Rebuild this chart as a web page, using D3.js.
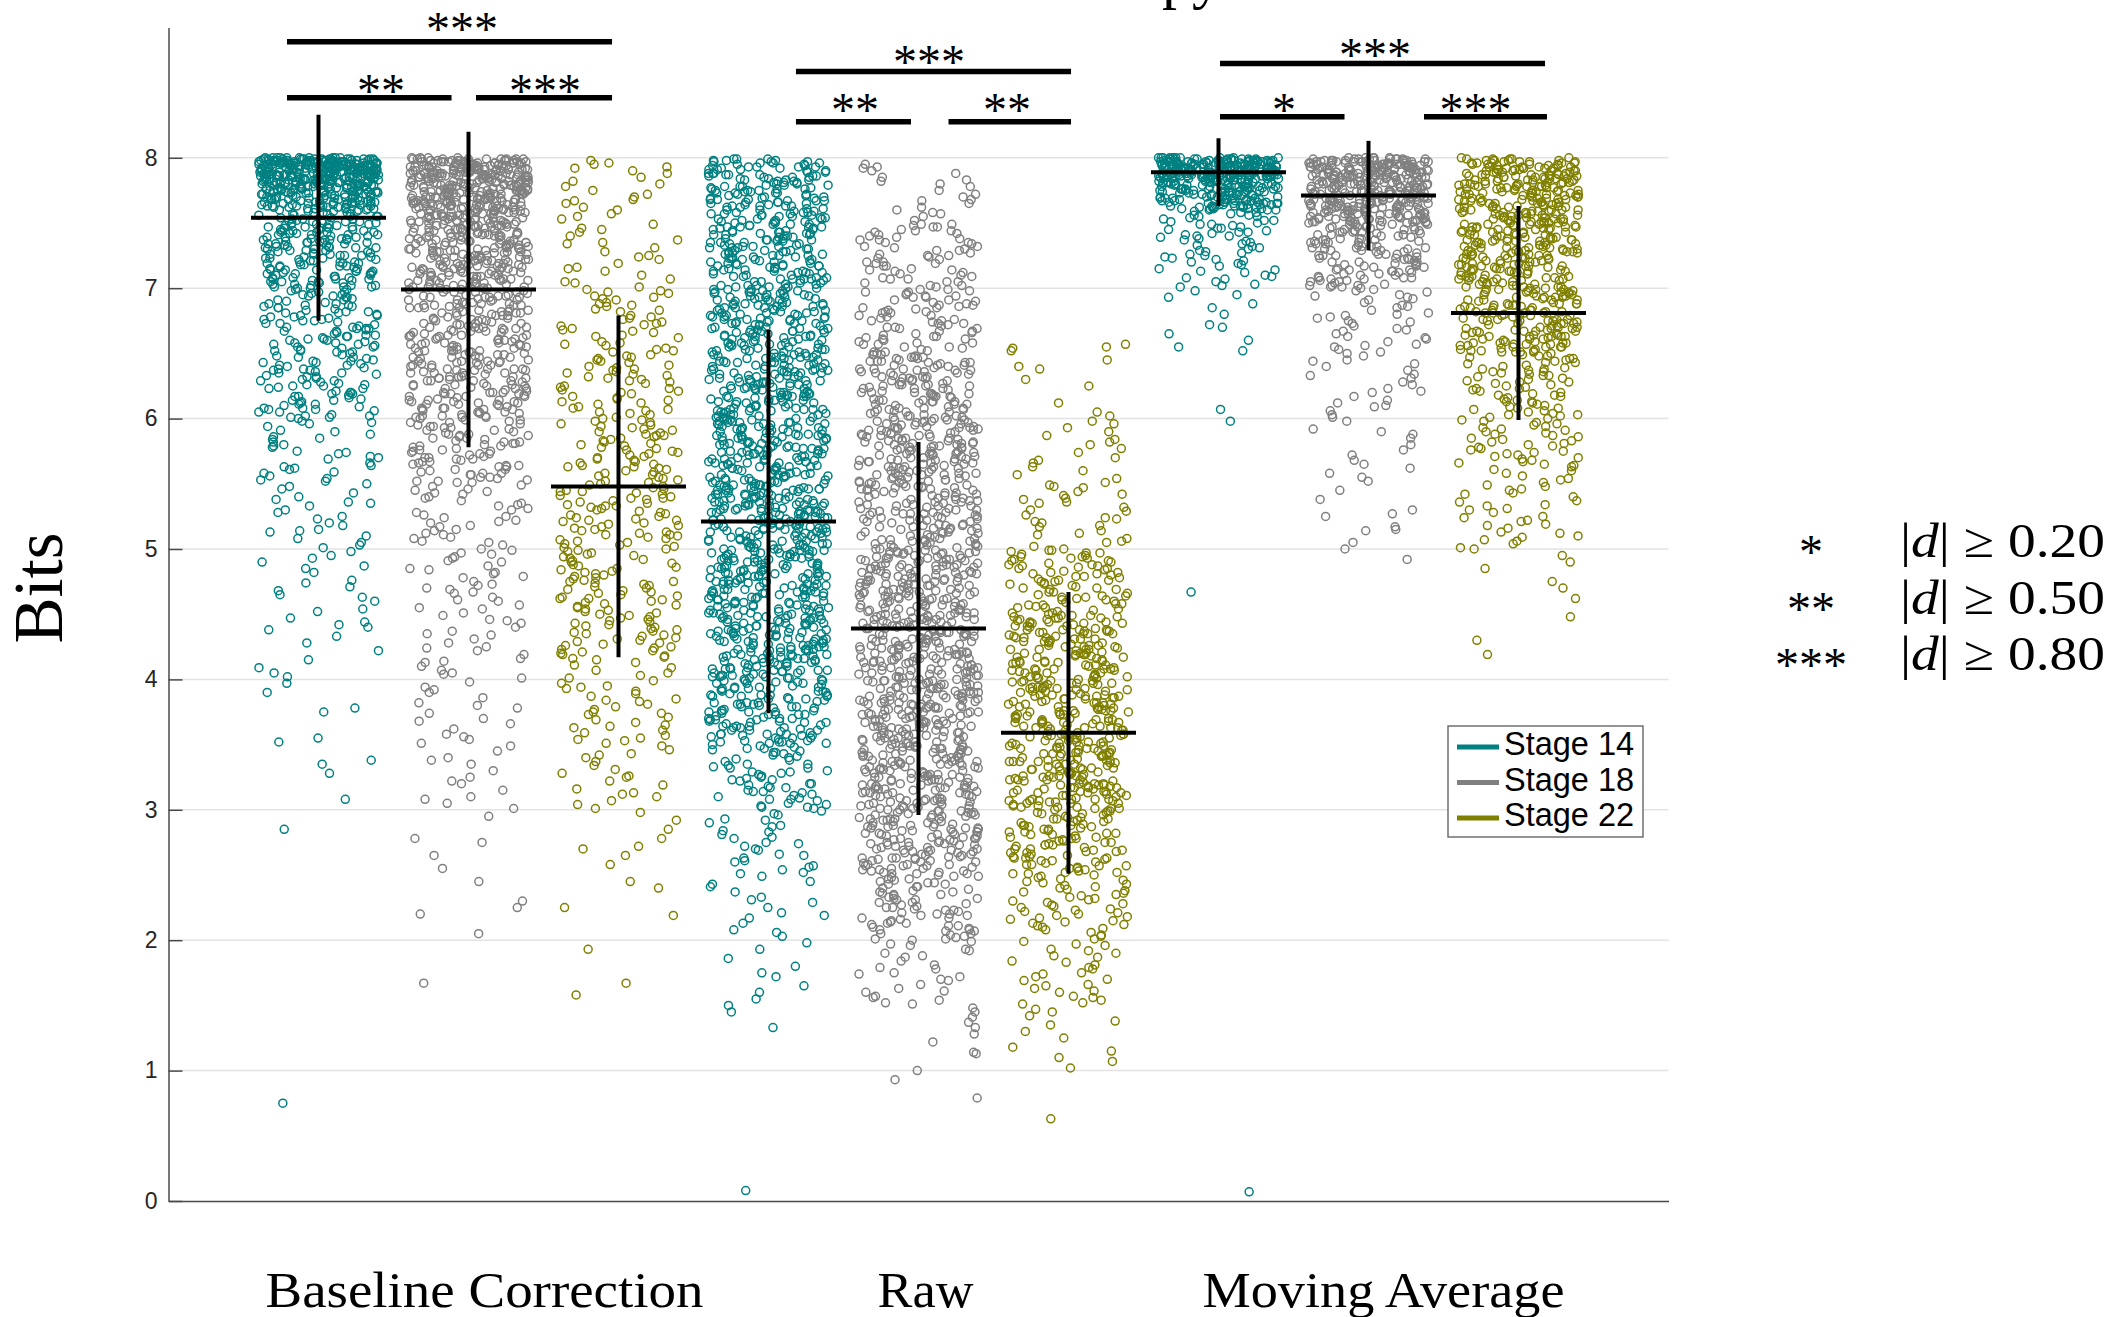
<!DOCTYPE html>
<html><head><meta charset="utf-8">
<script src="https://cdn.jsdelivr.net/npm/d3@7"></script>
<style>html,body{margin:0;padding:0;background:#fff;overflow:hidden}</style>
</head><body>
<svg id="chart" width="2113" height="1317"></svg>
<script>
// ---------------- DATA ----------------
const categories = ["Baseline Correction", "Raw", "Moving Average"];
const stages = ["Stage 14", "Stage 18", "Stage 22"];
const yTicks = [0, 1, 2, 3, 4, 5, 6, 7, 8];

const meanBaseline = [7.54, 6.99, 5.48];
const sdBaseline = [0.79, 1.21, 1.31];
const meanRaw = [5.21, 4.39, 3.59];
const sdRaw = [1.47, 1.43, 1.08];
const meanMoving = [7.89, 7.71, 6.81];
const sdMoving = [0.26, 0.42, 0.82];

const effectStars = ["*", "**", "***"];
const effectThresholds = ["0.20", "0.50", "0.80"];
const bracketLabels = ["***", "**", "***", "***", "**", "**", "***", "*", "***"];

// Baseline Correction, Stage 14
const bc14 = [8.00,7.99,7.98,7.97,7.96,7.95,7.94,7.93,7.92,7.91,7.90,7.99,7.97,7.95,7.93,7.91,8.00,7.98,7.96,7.94,
7.92,7.90,7.99,7.97,7.95,7.93,7.91,8.00,7.98,7.96,7.94,7.92,7.99,7.97,7.95,7.93,7.91,7.98,7.96,7.94,
7.92,7.90,8.00,7.99,7.97,7.95,7.93,7.91,7.98,7.96,7.94,7.92,7.99,7.97,7.95,7.93,7.91,8.00,7.98,7.96,
7.94,7.92,7.90,7.99,7.97,7.95,7.93,7.91,7.98,7.96,7.94,7.92,7.99,7.97,7.95,7.93,8.00,7.98,7.96,7.94,
7.92,7.90,7.99,7.97,7.95,7.93,7.91,7.98,7.96,7.94,
7.89,7.87,7.85,7.83,7.81,7.79,7.77,7.75,7.88,7.86,7.84,7.82,7.80,7.78,7.76,7.89,7.87,7.85,7.83,7.81,
7.79,7.77,7.75,7.88,7.86,7.84,7.82,7.80,7.78,7.76,7.89,7.86,7.83,7.80,7.77,7.88,7.85,7.82,7.79,7.76,
7.87,7.84,7.81,7.78,7.75,7.89,7.86,7.83,7.80,7.77,7.88,7.85,7.82,7.79,7.76,7.87,7.84,7.81,7.78,7.75,
7.89,7.86,7.83,7.80,7.77,7.88,7.85,7.82,7.79,7.76,7.87,7.84,7.81,7.78,7.75,
7.74,7.72,7.70,7.68,7.66,7.64,7.62,7.60,7.73,7.71,7.69,7.67,7.65,7.63,7.61,7.74,7.71,7.68,7.65,7.62,
7.73,7.70,7.67,7.64,7.61,7.72,7.69,7.66,7.63,7.60,7.74,7.70,7.66,7.62,7.73,7.69,7.65,7.61,7.72,7.68,
7.64,7.60,7.71,7.67,7.63,7.74,7.70,7.66,7.62,7.73,7.69,7.65,7.61,7.72,7.68,
7.59,7.57,7.55,7.53,7.51,7.49,7.47,7.45,7.43,7.41,7.39,7.37,7.35,7.33,7.31,7.58,7.55,7.52,7.49,7.46,
7.43,7.40,7.37,7.34,7.31,7.57,7.54,7.51,7.48,7.45,7.42,7.39,7.36,7.33,7.30,7.59,7.56,7.53,7.50,7.47,
7.44,7.41,7.38,7.35,7.32,7.58,7.54,7.50,7.46,7.42,7.38,7.34,7.30,7.57,7.53,7.49,7.45,7.41,7.37,7.33,
7.59,7.55,7.51,7.47,7.43,7.39,7.35,7.31,7.56,7.52,7.48,7.44,7.40,7.36,7.32,7.58,7.50,7.42,7.34,7.46,
7.29,7.27,7.25,7.23,7.21,7.19,7.17,7.15,7.13,7.11,7.09,7.07,7.05,7.03,7.01,7.28,7.24,7.20,7.16,7.12,
7.08,7.04,7.00,7.26,7.22,7.18,7.14,7.10,7.06,7.02,7.29,7.25,7.21,7.17,7.13,7.09,7.05,7.01,7.27,7.23,
7.19,7.15,7.11,7.07,7.03,7.28,7.22,7.16,7.10,7.04,7.26,7.20,7.14,7.08,7.02,7.24,7.18,7.12,7.06,7.00,
6.98,6.95,6.92,6.89,6.86,6.83,6.80,6.77,6.74,6.71,6.68,6.65,6.62,6.59,6.56,6.53,6.50,6.97,6.93,6.88,
6.84,6.79,6.75,6.70,6.66,6.61,6.57,6.52,6.99,6.94,6.90,6.85,6.81,6.76,6.72,6.67,6.63,6.58,6.54,6.96,
6.91,6.87,6.82,6.78,6.73,6.69,6.64,6.60,6.55,6.51,6.95,6.86,6.78,6.69,6.60,
6.48,6.45,6.42,6.39,6.36,6.33,6.30,6.27,6.24,6.21,6.18,6.15,6.12,6.09,6.06,6.03,6.00,6.47,6.43,6.38,
6.34,6.29,6.25,6.20,6.16,6.11,6.07,6.02,6.46,6.41,6.37,6.32,6.28,6.23,6.19,6.14,6.10,6.05,6.01,6.44,
6.35,6.26,6.17,6.08,6.40,
5.98,5.94,5.90,5.86,5.82,5.78,5.74,5.70,5.66,5.62,5.58,5.54,5.50,5.96,5.91,5.85,5.80,5.75,5.69,5.64,
5.59,5.53,5.97,5.88,5.79,5.71,5.63,5.56,5.84,5.73,5.61,5.52,
5.48,5.43,5.38,5.33,5.28,5.23,5.18,5.13,5.08,5.03,5.46,5.40,5.35,5.30,5.25,5.20,5.15,5.10,5.05,5.01,5.36,5.14,
4.98,4.93,4.87,4.82,4.76,4.71,4.65,4.60,4.54,4.95,4.85,4.74,4.63,4.52,4.90,4.68,
4.47,4.42,4.38,4.40,4.28,4.22,4.15,4.09,4.05,4.44,4.33,4.02,
3.97,3.90,3.78,3.75,3.55,3.52,3.38,3.35,3.28,3.08,2.85,0.75,
8.00,7.98,7.96,7.94,7.92,7.90,7.88,7.86,7.84,7.82,7.80,7.78,7.76,7.74,7.72,7.70,7.68,7.66,7.64,7.62,
7.99,7.97,7.95,7.93,7.91,7.89,7.87,7.85,7.83,7.81,7.79,7.77,7.75,7.73,7.71,7.69,7.67,7.65,7.63,7.61,
8.00,7.99,7.98,7.97,7.96,7.95,7.94,7.93,7.92,7.91,7.90,7.89,7.88,7.87,7.86,7.85,7.84,7.83,7.82,7.81,
7.99,7.97,7.95,7.93,7.91,7.89,7.87,7.85,7.83,7.98,7.96,7.94,7.92,7.90,7.88,7.86,7.80,7.78,7.76,7.74,
8.00,7.98,7.96,7.94,7.92,7.90,7.88,7.86,7.84,7.82,7.80,7.78,7.76,7.74,7.72,7.70,7.68,7.66,7.64,7.62,
7.99,7.97,7.95,7.93,7.91,7.89,7.87,7.85,7.83,7.81,7.79,7.77,7.75,7.73,7.71,7.69,7.67,7.65,7.63,7.61,
8.00,7.99,7.98,7.97,7.96,7.95,7.94,7.93,7.92,7.91,7.90,7.89,7.88,7.87,7.86,7.85,7.84,7.83,7.82,7.81,
7.99,7.97,7.95,7.93,7.91,7.89,7.87,7.85,7.83,7.98,7.96,7.94,7.92,7.90,7.88,7.86,7.80,7.78,7.76,7.74,
7.44,7.38,7.32,7.26,7.20,7.14,7.08,7.02,7.47,7.41,7.35,7.29,7.23,7.17,7.11,7.05,7.49,7.43,7.37,7.31,7.25,7.19,7.13,7.07,7.01,
6.94,6.88,6.82,6.76,6.70,6.64,6.58,6.52,6.97,6.91,6.85,6.79,6.73,6.67,6.61,6.55,6.99,6.93,6.87,6.81,6.75,6.69,6.63,6.57,6.51,
6.44,6.38,6.32,6.26,6.20,6.14,6.08,6.02,6.47,6.41,6.35,6.29,6.23,6.17,6.11,6.05,6.49,6.43,6.37,6.31,6.25,6.19,6.13,6.07,6.01];

// Baseline Correction, Stage 18
const bc18 = [8.00,7.99,7.98,7.97,7.96,7.95,7.94,7.93,7.92,7.91,7.90,7.89,7.88,7.87,7.86,7.85,7.99,7.97,7.95,7.93,
7.91,7.89,7.87,7.85,8.00,7.98,7.96,7.94,7.92,7.90,7.88,7.86,7.99,7.96,7.93,7.90,7.87,7.98,7.95,7.92,
7.89,7.86,8.00,7.97,7.94,7.91,7.88,7.85,7.99,7.95,7.91,7.87,7.98,7.94,7.90,7.86,7.97,7.93,7.89,7.85,
7.99,7.96,7.92,7.88,7.98,7.94,7.90,7.86,7.96,7.92,
7.84,7.82,7.80,7.78,7.76,7.74,7.72,7.70,7.68,7.66,7.64,7.62,7.60,7.83,7.81,7.79,7.77,7.75,7.73,7.71,
7.69,7.67,7.65,7.63,7.61,7.84,7.81,7.78,7.75,7.72,7.69,7.66,7.63,7.60,7.83,7.80,7.77,7.74,7.71,7.68,
7.65,7.62,7.82,7.79,7.76,7.73,7.70,7.67,7.64,7.61,7.84,7.80,7.76,7.72,7.68,7.64,7.60,7.82,7.78,7.74,
7.70,7.66,7.62,7.79,7.71,
7.59,7.57,7.55,7.53,7.51,7.49,7.47,7.45,7.43,7.41,7.58,7.56,7.54,7.52,7.50,7.48,7.46,7.44,7.42,7.40,
7.59,7.56,7.53,7.50,7.47,7.44,7.41,7.58,7.55,7.52,7.49,7.46,7.43,7.40,7.57,7.54,7.51,7.48,7.45,7.42,
7.58,7.53,7.48,7.43,7.55,
7.39,7.37,7.35,7.33,7.31,7.29,7.27,7.25,7.23,7.21,7.38,7.36,7.34,7.32,7.30,7.28,7.26,7.24,7.22,7.20,
7.39,7.35,7.31,7.27,7.23,7.37,7.33,7.29,7.25,7.21,7.38,7.34,7.30,7.26,7.22,7.36,7.28,7.20,7.32,7.24,
7.19,7.17,7.15,7.13,7.11,7.09,7.07,7.05,7.03,7.01,7.18,7.16,7.14,7.12,7.10,7.08,7.06,7.04,7.02,7.00,
7.19,7.15,7.11,7.07,7.03,7.17,7.13,7.09,7.05,7.01,7.18,7.12,7.06,7.00,7.16,7.10,7.04,7.14,
6.99,6.97,6.95,6.93,6.91,6.89,6.87,6.85,6.83,6.81,6.79,6.77,6.75,6.98,6.96,6.94,6.92,6.90,6.88,6.86,
6.84,6.82,6.80,6.78,6.76,6.97,6.93,6.89,6.85,6.81,6.77,6.95,6.91,6.87,6.83,6.79,6.99,6.88,
6.74,6.72,6.70,6.68,6.66,6.64,6.62,6.60,6.58,6.56,6.54,6.52,6.50,6.73,6.71,6.69,6.67,6.65,6.63,6.61,
6.59,6.57,6.55,6.53,6.51,6.72,6.68,6.64,6.60,6.56,6.52,6.70,6.62,6.54,6.66,
6.49,6.47,6.45,6.43,6.41,6.39,6.37,6.35,6.33,6.31,6.29,6.27,6.25,6.48,6.46,6.44,6.42,6.40,6.38,6.36,
6.34,6.32,6.30,6.28,6.26,6.47,6.41,6.35,6.29,6.44,6.38,6.32,
6.24,6.22,6.20,6.18,6.16,6.14,6.12,6.10,6.08,6.06,6.04,6.02,6.00,6.23,6.21,6.19,6.17,6.15,6.13,6.11,
6.09,6.07,6.05,6.03,6.01,6.20,6.12,6.04,
5.99,5.97,5.95,5.93,5.91,5.89,5.87,5.85,5.83,5.81,5.79,5.77,5.75,5.98,5.94,5.90,5.86,5.82,5.78,5.96,
5.92,5.88,5.84,5.80,5.76,
5.74,5.72,5.69,5.66,5.63,5.60,5.57,5.54,5.51,5.73,5.70,5.67,5.64,5.61,5.58,5.55,5.52,5.71,5.65,5.59,5.53,5.68,
5.49,5.46,5.43,5.40,5.37,5.34,5.31,5.28,5.25,5.48,5.44,5.39,5.35,5.30,5.26,5.42,5.33,5.45,
5.24,5.21,5.18,5.15,5.12,5.09,5.06,5.03,5.00,5.22,5.17,5.11,5.05,5.20,5.08,5.14,
4.99,4.96,4.93,4.90,4.87,4.84,4.81,4.78,4.75,4.72,4.69,4.66,4.63,4.60,4.57,4.54,4.51,4.97,4.91,4.85,
4.79,4.73,4.67,4.61,4.55,4.94,4.82,4.70,
4.49,4.46,4.43,4.40,4.37,4.34,4.31,4.28,4.25,4.22,4.19,4.16,4.13,4.10,4.07,4.04,4.01,4.45,4.35,4.24,4.14,4.05,
3.98,3.94,3.90,3.86,3.82,3.78,3.74,3.70,3.66,3.62,3.58,3.54,3.51,3.92,3.80,3.68,3.56,
3.49,3.45,3.40,3.35,3.30,3.25,3.20,3.15,3.10,3.05,3.01,3.38,3.22,3.08,
2.95,2.78,2.75,2.65,2.55,2.45,2.30,2.25,2.20,2.05,1.67,
7.99,7.96,7.93,7.90,7.87,7.84,7.81,7.78,7.75,7.72,7.69,7.66,7.63,7.60,7.57,7.54,7.51,7.98,7.95,7.92,
7.89,7.86,7.83,7.80,7.77,7.74,7.71,7.68,7.65,7.62,7.59,7.56,7.53,7.50,7.97,7.91,7.85,7.79,7.73,7.67,
7.94,7.88,7.82,7.76,7.70,7.64,7.58,7.52,7.97,7.91,7.85,7.79,7.73,7.67,7.61,7.55,7.99,7.93,7.87,7.81,7.75,7.69,7.63,7.57,7.51,
7.49,7.46,7.43,7.40,7.37,7.34,7.31,7.28,7.25,7.22,7.19,7.16,7.13,7.10,7.07,7.04,7.01,7.48,7.45,7.42,
7.39,7.36,7.33,7.30,7.27,7.24,7.21,7.18,7.15,7.12,7.09,7.06,7.03,7.00,7.47,7.41,7.35,7.29,7.23,7.17,
6.94,6.88,6.82,6.76,6.70,6.64,6.58,6.52,6.97,6.91,6.85,6.79,6.73,6.67,6.61,6.55,6.99,6.93,6.87,6.81,6.75,6.69,6.63,6.57,6.51,
6.44,6.38,6.32,6.26,6.20,6.14,6.08,6.02,6.47,6.41,6.35,6.29,6.23,6.17,6.11,6.05,6.49,6.43,6.37,6.31,6.25,6.19,6.13,6.07,6.01,
5.94,5.88,5.82,5.76,5.70,5.64,5.58,5.52,5.97,5.91,5.85,5.79,5.73,5.67,5.61,5.55,5.99,5.93,5.87,5.81,5.75,5.69,5.63,5.57,5.51,
7.99,7.96,7.93,7.90,7.87,7.84,7.81,7.78,7.75,7.72,7.69,7.66,7.63,7.60,7.57,7.54,7.51,7.98,7.95,7.92,
7.89,7.86,7.83,7.80,7.77,7.74,7.71,7.68,7.65,7.62,7.59,7.56,7.53,7.50,7.97,7.91,7.85,7.79,7.73,7.67,
8.00,7.98,7.96,7.94,7.92,7.90,7.88,7.86,7.84,7.82,7.80,7.78,7.76,7.74,7.72,7.70,7.68,7.66,7.64,7.62,
7.99,7.97,7.95,7.93,7.91,7.89,7.87,7.85,7.83,7.81,7.79,7.77,7.75,7.73,7.71,7.69,7.67,7.65,7.63,7.61,
7.94,7.88,7.82,7.76,7.70,7.64,7.58,7.52,7.97,7.91,7.85,7.79,7.73,7.67,7.61,7.55,7.99,7.93,7.87,7.81,7.75,7.69,7.63,7.57,7.51,
7.49,7.46,7.43,7.40,7.37,7.34,7.31,7.28,7.25,7.22,7.19,7.16,7.13,7.10,7.07,7.04,7.01,7.48,7.45,7.42,
7.39,7.36,7.33,7.30,7.27,7.24,7.21,7.18,7.15,7.12,7.09,7.06,7.03,7.00,7.47,7.41,7.35,7.29,7.23,7.17,
6.94,6.88,6.82,6.76,6.70,6.64,6.58,6.52,6.97,6.91,6.85,6.79,6.73,6.67,6.61,6.55,6.99,6.93,6.87,6.81,6.75,6.69,6.63,6.57,6.51,
6.44,6.38,6.32,6.26,6.20,6.14,6.08,6.02,6.47,6.41,6.35,6.29,6.23,6.17,6.11,6.05,6.49,6.43,6.37,6.31,6.25,6.19,6.13,6.07,6.01];

// Baseline Correction, Stage 22
const bc22 = [7.98,7.96,7.95,7.93,7.90,7.88,7.85,7.82,7.80,7.78,7.75,7.72,7.70,7.67,7.65,7.62,7.60,7.57,7.55,7.53,7.92,7.68,
7.49,7.46,7.43,7.40,7.37,7.34,7.31,7.28,7.25,7.22,7.19,7.16,7.13,7.10,7.07,7.04,7.01,7.45,7.35,7.24,7.15,7.05,
6.99,6.97,6.94,6.92,6.89,6.87,6.84,6.82,6.79,6.77,6.74,6.72,6.69,6.67,6.64,6.62,6.59,6.57,6.54,6.52,
6.98,6.93,6.88,6.83,6.78,6.73,6.68,6.63,6.58,6.53,6.96,6.86,6.76,6.66,6.56,6.91,6.71,6.51,
6.49,6.47,6.45,6.43,6.41,6.39,6.37,6.35,6.33,6.31,6.29,6.27,6.25,6.23,6.21,6.19,6.17,6.15,6.13,6.11,
6.09,6.07,6.05,6.03,6.01,6.48,6.44,6.40,6.36,6.32,6.28,6.24,6.20,6.16,6.12,6.08,6.04,6.00,6.46,6.38,
6.30,6.22,6.14,6.06,6.34,
5.99,5.97,5.95,5.93,5.91,5.89,5.87,5.85,5.83,5.81,5.79,5.77,5.75,5.73,5.71,5.69,5.67,5.65,5.63,5.61,
5.59,5.57,5.55,5.53,5.51,5.98,5.96,5.94,5.92,5.90,5.88,5.86,5.84,5.82,5.80,5.78,5.76,5.74,5.72,5.70,
5.68,5.66,5.64,5.62,5.60,5.58,5.56,5.54,5.52,5.50,5.87,5.63,
5.49,5.47,5.45,5.43,5.41,5.39,5.37,5.35,5.33,5.31,5.29,5.27,5.25,5.23,5.21,5.19,5.17,5.15,5.13,5.11,
5.09,5.07,5.05,5.03,5.01,5.48,5.46,5.44,5.42,5.40,5.38,5.36,5.34,5.32,5.30,5.28,5.26,5.24,5.22,5.20,
5.18,5.16,5.14,5.12,5.10,5.08,5.06,5.04,5.02,5.00,5.44,5.33,5.22,5.11,5.39,
4.99,4.97,4.95,4.93,4.91,4.89,4.87,4.85,4.83,4.81,4.79,4.77,4.75,4.73,4.71,4.69,4.67,4.65,4.63,4.61,
4.59,4.57,4.55,4.53,4.51,4.98,4.96,4.94,4.92,4.90,4.88,4.86,4.84,4.82,4.80,4.78,4.76,4.74,4.72,4.70,
4.68,4.66,4.64,4.62,4.60,4.58,4.56,4.54,4.52,4.50,4.75,4.62,
4.49,4.47,4.45,4.43,4.41,4.39,4.37,4.35,4.33,4.31,4.29,4.27,4.25,4.23,4.21,4.19,4.17,4.15,4.13,4.11,
4.09,4.07,4.05,4.03,4.01,4.48,4.46,4.44,4.42,4.40,4.38,4.36,4.34,4.32,4.30,4.28,4.26,4.24,4.22,4.20,4.18,4.16,
3.99,3.97,3.95,3.93,3.91,3.89,3.87,3.85,3.83,3.81,3.79,3.77,3.75,3.73,3.71,3.69,3.67,3.65,3.63,3.61,
3.59,3.57,3.55,3.53,3.51,3.94,3.84,3.74,3.64,3.54,
3.49,3.46,3.43,3.40,3.37,3.34,3.31,3.28,3.25,3.22,3.19,3.16,3.13,3.10,3.07,3.04,3.01,3.42,3.26,3.12,
2.98,2.92,2.85,2.78,2.72,2.70,2.65,2.58,2.45,2.40,2.25,2.19,1.93,1.67,1.58];

// Raw, Stage 14
const raw14 = [7.99,7.97,7.96,7.94,7.92,7.91,7.89,7.87,7.86,7.84,7.82,7.80,7.79,7.77,7.75,7.74,7.72,7.70,7.68,7.67,
7.65,7.63,7.61,7.60,7.58,7.56,7.54,7.53,7.51,7.98,7.95,7.93,7.90,7.88,7.85,7.83,7.81,7.78,7.76,7.73,
7.71,7.69,7.66,7.64,7.62,7.59,7.57,7.55,7.52,7.50,7.98,7.93,7.88,7.83,7.78,7.73,7.68,7.63,7.58,7.53,
7.96,7.86,7.76,7.66,7.56,
7.49,7.47,7.45,7.44,7.42,7.40,7.38,7.36,7.34,7.33,7.31,7.29,7.27,7.25,7.23,7.22,7.20,7.18,7.16,7.14,
7.12,7.11,7.09,7.07,7.05,7.03,7.01,7.48,7.46,7.43,7.41,7.39,7.37,7.35,7.32,7.30,7.28,7.26,7.24,7.21,
7.19,7.17,7.15,7.13,7.10,7.08,7.06,7.04,7.02,7.00,7.47,7.42,7.37,7.32,7.27,7.22,7.17,7.12,7.07,7.02,
6.99,6.97,6.96,6.94,6.92,6.91,6.89,6.87,6.86,6.84,6.82,6.80,6.79,6.77,6.75,6.74,6.72,6.70,6.68,6.67,
6.65,6.63,6.61,6.60,6.58,6.56,6.54,6.53,6.51,6.98,6.95,6.93,6.90,6.88,6.85,6.83,6.81,6.78,6.76,6.73,
6.71,6.69,6.66,6.64,6.62,6.59,6.57,6.55,6.52,6.50,6.98,6.93,6.88,6.83,6.78,6.73,6.68,6.63,6.58,6.53,
6.96,6.86,6.76,6.66,6.56,
6.49,6.47,6.46,6.44,6.42,6.41,6.39,6.37,6.36,6.34,6.32,6.30,6.29,6.27,6.25,6.24,6.22,6.20,6.18,6.17,
6.15,6.13,6.11,6.10,6.08,6.06,6.04,6.03,6.01,6.48,6.45,6.43,6.40,6.38,6.35,6.33,6.31,6.28,6.26,6.23,
6.21,6.19,6.16,6.14,6.12,6.09,6.07,6.05,6.02,6.00,6.48,6.43,6.38,6.33,6.28,6.23,6.18,6.13,6.08,6.03,
6.46,6.36,6.26,6.16,6.06,6.47,6.37,6.27,6.17,6.07,
5.99,5.97,5.96,5.94,5.92,5.91,5.89,5.87,5.86,5.84,5.82,5.80,5.79,5.77,5.75,5.74,5.72,5.70,5.68,5.67,
5.65,5.63,5.61,5.60,5.58,5.56,5.54,5.53,5.51,5.98,5.95,5.93,5.90,5.88,5.85,5.83,5.81,5.78,5.76,5.73,
5.71,5.69,5.66,5.64,5.62,5.59,5.57,5.55,5.52,5.50,5.98,5.93,5.88,5.83,5.78,5.73,5.68,5.63,5.58,5.53,
5.96,5.86,5.76,5.66,5.56,5.97,5.92,5.87,5.82,5.77,5.72,5.67,5.62,5.57,5.52,
5.49,5.47,5.46,5.44,5.42,5.41,5.39,5.37,5.36,5.34,5.32,5.30,5.29,5.27,5.25,5.24,5.22,5.20,5.18,5.17,
5.15,5.13,5.11,5.10,5.08,5.06,5.04,5.03,5.01,5.48,5.45,5.43,5.40,5.38,5.35,5.33,5.31,5.28,5.26,5.23,
5.21,5.19,5.16,5.14,5.12,5.09,5.07,5.05,5.02,5.00,5.48,5.43,5.38,5.33,5.28,5.23,5.18,5.13,5.08,5.03,
5.46,5.36,5.26,5.16,5.06,5.49,5.44,5.39,5.34,5.29,5.24,5.19,5.14,5.09,5.04,5.46,5.31,5.16,
4.99,4.97,4.96,4.94,4.92,4.91,4.89,4.87,4.86,4.84,4.82,4.80,4.79,4.77,4.75,4.74,4.72,4.70,4.68,4.67,
4.65,4.63,4.61,4.60,4.58,4.56,4.54,4.53,4.51,4.98,4.95,4.93,4.90,4.88,4.85,4.83,4.81,4.78,4.76,4.73,
4.71,4.69,4.66,4.64,4.62,4.59,4.57,4.55,4.52,4.50,4.98,4.93,4.88,4.83,4.78,4.73,4.68,4.63,4.58,4.53,
4.96,4.86,4.76,4.66,4.56,4.99,4.94,4.89,4.84,4.79,4.74,4.69,4.64,4.59,4.54,4.96,4.81,4.66,
4.49,4.47,4.46,4.44,4.42,4.41,4.39,4.37,4.36,4.34,4.32,4.30,4.29,4.27,4.25,4.24,4.22,4.20,4.18,4.17,
4.15,4.13,4.11,4.10,4.08,4.06,4.04,4.03,4.01,4.48,4.45,4.43,4.40,4.38,4.35,4.33,4.31,4.28,4.26,4.23,
4.21,4.19,4.16,4.14,4.12,4.09,4.07,4.05,4.02,4.00,4.48,4.43,4.38,4.33,4.28,4.23,4.18,4.13,4.08,4.03,
4.46,4.36,4.26,4.16,4.06,4.47,4.39,4.31,4.23,4.15,4.07,4.02,
3.99,3.97,3.96,3.94,3.92,3.91,3.89,3.87,3.86,3.84,3.82,3.80,3.79,3.77,3.75,3.74,3.72,3.70,3.68,3.67,
3.65,3.63,3.61,3.60,3.58,3.56,3.54,3.53,3.51,3.98,3.95,3.93,3.90,3.88,3.85,3.83,3.81,3.78,3.76,3.73,
3.71,3.69,3.66,3.64,3.62,3.59,3.57,3.55,3.52,3.50,3.98,3.88,3.78,3.68,3.58,3.93,3.73,3.53,
3.49,3.47,3.44,3.42,3.39,3.37,3.34,3.32,3.29,3.27,3.24,3.22,3.19,3.17,3.14,3.12,3.09,3.07,3.04,3.02,
3.48,3.45,3.40,3.35,3.30,3.25,3.20,3.15,3.10,3.05,3.01,3.43,3.33,3.23,3.13,3.03,3.46,3.28,3.18,3.08,
2.99,2.96,2.93,2.90,2.87,2.84,2.81,2.78,2.75,2.72,2.69,2.66,2.63,2.60,2.57,2.54,2.51,2.97,2.88,2.79,
2.70,2.61,2.52,2.92,2.74,2.56,2.83,2.65,
2.49,2.45,2.41,2.37,2.33,2.29,2.25,2.21,2.17,2.13,2.08,2.03,2.43,2.31,2.19,2.06,
1.98,1.93,1.86,1.80,1.75,1.72,1.65,1.60,1.55,1.50,1.45,1.33,0.08,
7.99,7.96,7.93,7.90,7.87,7.84,7.81,7.78,7.75,7.72,7.69,7.66,7.63,7.60,7.57,7.54,7.51,7.98,7.95,7.92,
7.89,7.86,7.83,7.80,7.77,7.74,7.71,7.68,7.65,7.62,7.59,7.56,7.53,7.50,7.97,7.91,7.85,7.79,7.73,7.67,
7.49,7.46,7.43,7.40,7.37,7.34,7.31,7.28,7.25,7.22,7.19,7.16,7.13,7.10,7.07,7.04,7.01,7.48,7.45,7.42,
7.39,7.36,7.33,7.30,7.27,7.24,7.21,7.18,7.15,7.12,7.09,7.06,7.03,7.00,7.47,7.41,7.35,7.29,7.23,7.17,
6.99,6.96,6.93,6.90,6.87,6.84,6.81,6.78,6.75,6.72,6.69,6.66,6.63,6.60,6.57,6.54,6.51,6.98,6.95,6.92,
6.89,6.86,6.83,6.80,6.77,6.74,6.71,6.68,6.65,6.62,6.59,6.56,6.53,6.50,6.97,6.91,6.85,6.79,6.73,6.67,
6.49,6.46,6.43,6.40,6.37,6.34,6.31,6.28,6.25,6.22,6.19,6.16,6.13,6.10,6.07,6.04,6.01,6.48,6.45,6.42,
6.39,6.36,6.33,6.30,6.27,6.24,6.21,6.18,6.15,6.12,6.09,6.06,6.03,6.00,6.47,6.41,6.35,6.29,6.23,6.17,
5.99,5.96,5.93,5.90,5.87,5.84,5.81,5.78,5.75,5.72,5.69,5.66,5.63,5.60,5.57,5.54,5.51,5.98,5.95,5.92,
5.89,5.86,5.83,5.80,5.77,5.74,5.71,5.68,5.65,5.62,5.59,5.56,5.53,5.50,5.97,5.91,5.85,5.79,5.73,5.67,
5.49,5.46,5.43,5.40,5.37,5.34,5.31,5.28,5.25,5.22,5.19,5.16,5.13,5.10,5.07,5.04,5.01,5.48,5.45,5.42,
5.39,5.36,5.33,5.30,5.27,5.24,5.21,5.18,5.15,5.12,5.09,5.06,5.03,5.00,5.47,5.41,5.35,5.29,5.23,5.17,
4.99,4.96,4.93,4.90,4.87,4.84,4.81,4.78,4.75,4.72,4.69,4.66,4.63,4.60,4.57,4.54,4.51,4.98,4.95,4.92,
4.89,4.86,4.83,4.80,4.77,4.74,4.71,4.68,4.65,4.62,4.59,4.56,4.53,4.50,4.97,4.91,4.85,4.79,4.73,4.67,
4.49,4.46,4.43,4.40,4.37,4.34,4.31,4.28,4.25,4.22,4.19,4.16,4.13,4.10,4.07,4.04,4.01,4.48,4.45,4.42,
4.39,4.36,4.33,4.30,4.27,4.24,4.21,4.18,4.15,4.12,4.09,4.06,4.03,4.00,4.47,4.41,4.35,4.29,4.23,4.17,
3.94,3.88,3.82,3.76,3.70,3.64,3.58,3.52,3.97,3.91,3.85,3.79,3.73,3.67,3.61,3.55,3.99,3.93,3.87,3.81,3.75,3.69,3.63,3.57,3.51,
3.44,3.38,3.32,3.26,3.20,3.14,3.08,3.02,3.47,3.41,3.35,3.29,3.23,3.17,3.11,
7.94,7.88,7.82,7.76,7.70,7.64,7.58,7.52,7.97,7.91,7.85,7.79,7.73,7.67,7.61,7.55,7.99,7.93,7.87,7.81,7.75,7.69,7.63,7.57,7.51,
7.44,7.38,7.32,7.26,7.20,7.14,7.08,7.02,7.47,7.41,7.35,7.29,7.23,7.17,7.11,7.05,7.49,7.43,7.37,7.31,7.25,7.19,7.13,7.07,7.01,
6.94,6.88,6.82,6.76,6.70,6.64,6.58,6.52,6.97,6.91,6.85,6.79,6.73,6.67,6.61,6.55,6.99,6.93,6.87,6.81,6.75,6.69,6.63,6.57,6.51,
6.44,6.38,6.32,6.26,6.20,6.14,6.08,6.02,6.47,6.41,6.35,6.29,6.23,6.17,6.11,6.05,6.49,6.43,6.37,6.31,6.25,6.19,6.13,6.07,6.01,
5.94,5.88,5.82,5.76,5.70,5.64,5.58,5.52,5.97,5.91,5.85,5.79,5.73,5.67,5.61,5.55,5.99,5.93,5.87,5.81,5.75,5.69,5.63,5.57,5.51,
5.49,5.46,5.43,5.40,5.37,5.34,5.31,5.28,5.25,5.22,5.19,5.16,5.13,5.10,5.07,5.04,5.01,5.48,5.45,5.42,
5.39,5.36,5.33,5.30,5.27,5.24,5.21,5.18,5.15,5.12,5.09,5.06,5.03,5.00,5.47,5.41,5.35,5.29,5.23,5.17,
4.94,4.88,4.82,4.76,4.70,4.64,4.58,4.52,4.97,4.91,4.85,4.79,4.73,4.67,4.61,4.55,4.99,4.93,4.87,4.81,4.75,4.69,4.63,4.57,4.51,
4.44,4.38,4.32,4.26,4.20,4.14,4.08,4.02,4.47,4.41,4.35,4.29,4.23,4.17,4.11,4.05,4.49,4.43,4.37,4.31,4.25,4.19,4.13,4.07,4.01,
3.94,3.88,3.82,3.76,3.70,3.64,3.58,3.52,3.97,3.91,3.85,3.79,3.73,3.67,3.61,3.55,3.99,3.93,3.87,3.81,3.75,3.69,3.63,3.57,3.51];

// Raw, Stage 18
const raw18 = [7.95,7.93,7.90,7.88,7.85,7.82,7.80,7.78,7.75,7.72,7.70,7.67,7.65,7.62,7.60,7.57,7.55,7.52,7.92,7.83,7.68,7.58,
7.49,7.47,7.44,7.42,7.39,7.37,7.34,7.32,7.29,7.27,7.24,7.22,7.19,7.17,7.14,7.12,7.09,7.07,7.04,7.02,
7.48,7.40,7.35,7.30,7.25,7.20,7.15,7.10,7.05,7.45,
6.99,6.97,6.95,6.93,6.91,6.89,6.87,6.85,6.83,6.81,6.79,6.77,6.75,6.73,6.71,6.69,6.67,6.65,6.63,6.61,
6.59,6.57,6.55,6.53,6.51,6.98,6.94,6.90,6.86,6.82,6.78,6.74,6.70,6.66,6.62,6.58,6.54,6.50,6.96,6.84,6.72,6.60,
6.49,6.47,6.46,6.44,6.42,6.41,6.39,6.37,6.36,6.34,6.32,6.30,6.29,6.27,6.25,6.24,6.22,6.20,6.18,6.17,
6.15,6.13,6.11,6.10,6.08,6.06,6.04,6.03,6.01,6.48,6.45,6.43,6.40,6.38,6.35,6.33,6.31,6.28,6.26,6.23,
6.21,6.19,6.16,6.14,6.12,6.09,6.07,6.05,6.02,6.00,6.46,6.36,
5.99,5.97,5.96,5.94,5.92,5.91,5.89,5.87,5.86,5.84,5.82,5.80,5.79,5.77,5.75,5.74,5.72,5.70,5.68,5.67,
5.65,5.63,5.61,5.60,5.58,5.56,5.54,5.53,5.51,5.98,5.95,5.93,5.90,5.88,5.85,5.83,5.81,5.78,5.76,5.73,
5.71,5.69,5.66,5.64,5.62,5.59,5.57,5.55,5.52,5.50,5.98,5.93,5.88,5.83,5.78,5.73,5.68,5.63,5.58,5.53,
5.49,5.47,5.46,5.44,5.42,5.41,5.39,5.37,5.36,5.34,5.32,5.30,5.29,5.27,5.25,5.24,5.22,5.20,5.18,5.17,
5.15,5.13,5.11,5.10,5.08,5.06,5.04,5.03,5.01,5.48,5.45,5.43,5.40,5.38,5.35,5.33,5.31,5.28,5.26,5.23,
5.21,5.19,5.16,5.14,5.12,5.09,5.07,5.05,5.02,5.00,5.48,5.43,5.38,5.33,5.28,5.23,5.18,5.13,5.08,5.03,
5.46,5.36,5.26,5.16,5.06,5.47,5.27,5.07,
4.99,4.97,4.96,4.94,4.92,4.91,4.89,4.87,4.86,4.84,4.82,4.80,4.79,4.77,4.75,4.74,4.72,4.70,4.68,4.67,
4.65,4.63,4.61,4.60,4.58,4.56,4.54,4.53,4.51,4.98,4.95,4.93,4.90,4.88,4.85,4.83,4.81,4.78,4.76,4.73,
4.71,4.69,4.66,4.64,4.62,4.59,4.57,4.55,4.52,4.50,4.98,4.93,4.88,4.83,4.78,4.73,4.68,4.63,4.58,4.53,
4.96,4.86,4.76,4.66,4.56,4.97,4.87,4.77,4.67,4.57,4.92,4.82,4.72,4.62,
4.49,4.47,4.46,4.44,4.42,4.41,4.39,4.37,4.36,4.34,4.32,4.30,4.29,4.27,4.25,4.24,4.22,4.20,4.18,4.17,
4.15,4.13,4.11,4.10,4.08,4.06,4.04,4.03,4.01,4.48,4.45,4.43,4.40,4.38,4.35,4.33,4.31,4.28,4.26,4.23,
4.21,4.19,4.16,4.14,4.12,4.09,4.07,4.05,4.02,4.00,4.48,4.43,4.38,4.33,4.28,4.23,4.18,4.13,4.08,4.03,
4.46,4.36,4.26,4.16,4.06,4.49,4.44,4.39,4.34,4.29,4.24,4.19,4.14,4.09,4.04,4.46,4.31,4.16,
3.99,3.97,3.96,3.94,3.92,3.91,3.89,3.87,3.86,3.84,3.82,3.80,3.79,3.77,3.75,3.74,3.72,3.70,3.68,3.67,
3.65,3.63,3.61,3.60,3.58,3.56,3.54,3.53,3.51,3.98,3.95,3.93,3.90,3.88,3.85,3.83,3.81,3.78,3.76,3.73,
3.71,3.69,3.66,3.64,3.62,3.59,3.57,3.55,3.52,3.50,3.98,3.93,3.88,3.83,3.78,3.73,3.68,3.63,3.58,3.53,
3.96,3.86,3.76,3.66,3.56,3.99,3.94,3.89,3.84,3.79,3.74,3.69,3.64,3.59,3.54,3.96,3.81,3.66,
3.49,3.47,3.46,3.44,3.42,3.41,3.39,3.37,3.36,3.34,3.32,3.30,3.29,3.27,3.25,3.24,3.22,3.20,3.18,3.17,
3.15,3.13,3.11,3.10,3.08,3.06,3.04,3.03,3.01,3.48,3.45,3.43,3.40,3.38,3.35,3.33,3.31,3.28,3.26,3.23,
3.21,3.19,3.16,3.14,3.12,3.09,3.07,3.05,3.02,3.00,3.48,3.43,3.38,3.33,3.28,3.23,3.18,3.13,3.08,3.03,
3.46,3.36,3.26,3.16,3.06,3.47,3.37,3.27,3.17,
2.99,2.97,2.96,2.94,2.92,2.91,2.89,2.87,2.86,2.84,2.82,2.80,2.79,2.77,2.75,2.74,2.72,2.70,2.68,2.67,
2.65,2.63,2.61,2.60,2.58,2.56,2.54,2.53,2.51,2.98,2.95,2.93,2.90,2.88,2.85,2.83,2.81,2.78,2.76,2.73,
2.71,2.69,2.66,2.64,2.62,2.59,2.57,2.55,2.52,2.50,2.98,2.93,2.88,2.83,2.78,2.73,2.68,2.63,2.58,2.53,2.96,2.86,
2.49,2.47,2.45,2.43,2.41,2.39,2.37,2.35,2.33,2.31,2.29,2.27,2.25,2.23,2.21,2.19,2.17,2.15,2.13,2.11,
2.09,2.07,2.05,2.03,2.01,2.48,2.44,2.40,2.36,2.32,2.28,2.24,2.20,2.16,2.12,2.08,2.04,2.00,2.46,2.34,2.22,2.10,
1.99,1.96,1.93,1.90,1.87,1.84,1.81,1.78,1.75,1.72,1.69,1.66,1.63,1.60,1.57,1.54,1.51,1.97,1.88,1.79,
1.70,1.61,1.52,1.92,1.74,1.56,
1.48,1.45,1.41,1.37,1.33,1.28,1.22,1.14,1.13,0.93,0.79,1.00,
6.44,6.38,6.32,6.26,6.20,6.14,6.08,6.02,6.47,6.41,6.35,6.29,6.23,6.17,6.11,6.05,6.49,6.43,6.37,6.31,6.25,6.19,6.13,6.07,6.01,
5.99,5.96,5.93,5.90,5.87,5.84,5.81,5.78,5.75,5.72,5.69,5.66,5.63,5.60,5.57,5.54,5.51,5.98,5.95,5.92,
5.89,5.86,5.83,5.80,5.77,5.74,5.71,5.68,5.65,5.62,5.59,5.56,5.53,5.50,5.97,5.91,5.85,5.79,5.73,5.67,
5.49,5.46,5.43,5.40,5.37,5.34,5.31,5.28,5.25,5.22,5.19,5.16,5.13,5.10,5.07,5.04,5.01,5.48,5.45,5.42,
5.39,5.36,5.33,5.30,5.27,5.24,5.21,5.18,5.15,5.12,5.09,5.06,5.03,5.00,5.47,5.41,5.35,5.29,5.23,5.17,
4.99,4.96,4.93,4.90,4.87,4.84,4.81,4.78,4.75,4.72,4.69,4.66,4.63,4.60,4.57,4.54,4.51,4.98,4.95,4.92,
4.89,4.86,4.83,4.80,4.77,4.74,4.71,4.68,4.65,4.62,4.59,4.56,4.53,4.50,4.97,4.91,4.85,4.79,4.73,4.67,
4.49,4.46,4.43,4.40,4.37,4.34,4.31,4.28,4.25,4.22,4.19,4.16,4.13,4.10,4.07,4.04,4.01,4.48,4.45,4.42,
4.39,4.36,4.33,4.30,4.27,4.24,4.21,4.18,4.15,4.12,4.09,4.06,4.03,4.00,4.47,4.41,4.35,4.29,4.23,4.17,
3.99,3.96,3.93,3.90,3.87,3.84,3.81,3.78,3.75,3.72,3.69,3.66,3.63,3.60,3.57,3.54,3.51,3.98,3.95,3.92,
3.89,3.86,3.83,3.80,3.77,3.74,3.71,3.68,3.65,3.62,3.59,3.56,3.53,3.50,3.97,3.91,3.85,3.79,3.73,3.67,
3.49,3.46,3.43,3.40,3.37,3.34,3.31,3.28,3.25,3.22,3.19,3.16,3.13,3.10,3.07,3.04,3.01,3.48,3.45,3.42,
3.39,3.36,3.33,3.30,3.27,3.24,3.21,3.18,3.15,3.12,3.09,3.06,3.03,3.00,3.47,3.41,3.35,3.29,3.23,3.17,
2.99,2.96,2.93,2.90,2.87,2.84,2.81,2.78,2.75,2.72,2.69,2.66,2.63,2.60,2.57,2.54,2.51,2.98,2.95,2.92,
2.89,2.86,2.83,2.80,2.77,2.74,2.71,2.68,2.65,2.62,
2.44,2.38,2.32,2.26,2.20,2.14,2.08,2.02,2.47,2.41,2.35,2.29,2.23,2.17,2.11,2.05,2.49,2.43,2.37,2.31,2.25,2.19,2.13,2.07,2.01,
7.44,7.38,7.32,7.26,7.20,7.14,7.08,7.02,7.47,7.41,7.35,7.29,7.23,7.17,7.11,7.05,7.49,7.43,7.37,7.31,7.25,7.19,7.13,7.07,7.01,
6.94,6.88,6.82,6.76,6.70,6.64,6.58,6.52,6.97,6.91,6.85,6.79,6.73,6.67,6.61,6.55,6.99,6.93,6.87,6.81,6.75,6.69,6.63,6.57,6.51,
6.44,6.38,6.32,6.26,6.20,6.14,6.08,6.02,6.47,6.41,6.35,6.29,6.23,6.17,6.11,6.05,6.49,6.43,6.37,6.31,6.25,6.19,6.13,6.07,6.01,
5.94,5.88,5.82,5.76,5.70,5.64,5.58,5.52,5.97,5.91,5.85,5.79,5.73,5.67,5.61,5.55,5.99,5.93,5.87,5.81,5.75,5.69,5.63,5.57,5.51,
4.94,4.88,4.82,4.76,4.70,4.64,4.58,4.52,4.97,4.91,4.85,4.79,4.73,4.67,4.61,4.55,4.99,4.93,4.87,4.81,4.75,4.69,4.63,4.57,4.51,
4.44,4.38,4.32,4.26,4.20,4.14,4.08,4.02,4.47,4.41,4.35,4.29,4.23,4.17,4.11,4.05,4.49,4.43,4.37,4.31,4.25,4.19,4.13,4.07,4.01,
3.94,3.88,3.82,3.76,3.70,3.64,3.58,3.52,3.97,3.91,3.85,3.79,3.73,3.67,3.61,3.55,3.99,3.93,3.87,3.81,3.75,3.69,3.63,3.57,3.51,
3.44,3.38,3.32,3.26,3.20,3.14,3.08,3.02,3.47,3.41,3.35,3.29,3.23,3.17,3.11,3.05,3.49,3.43,3.37,3.31,3.25,3.19,3.13,3.07,3.01,
2.94,2.88,2.82,2.76,2.70,2.64,2.58,2.52,2.97,2.91,2.85,2.79,2.73,2.67,2.61,2.55,2.99,2.93,2.87,2.81,2.75,2.69,2.63,2.57,2.51];

// Raw, Stage 22
const raw22 = [6.57,6.55,6.54,6.52,6.45,6.40,6.38,6.30,6.25,6.12,6.05,6.02,
5.98,5.96,5.93,5.90,5.87,5.84,5.80,5.77,5.74,5.70,5.66,5.63,5.60,5.57,5.54,5.51,5.82,5.68,
5.49,5.47,5.44,5.41,5.38,5.35,5.32,5.29,5.26,5.23,5.20,5.17,5.14,5.11,5.08,5.05,5.02,5.48,5.42,5.36,
5.30,5.24,5.18,5.12,5.06,5.00,5.39,5.21,
4.99,4.97,4.95,4.93,4.91,4.89,4.87,4.85,4.83,4.81,4.79,4.77,4.75,4.73,4.71,4.69,4.67,4.65,4.63,4.61,
4.59,4.57,4.55,4.53,4.51,4.98,4.94,4.90,4.86,4.82,4.78,4.74,4.70,4.66,4.62,4.58,4.54,4.50,4.96,4.88,
4.80,4.72,4.64,4.56,4.92,4.76,4.60,4.84,
4.49,4.47,4.46,4.44,4.42,4.41,4.39,4.37,4.36,4.34,4.32,4.30,4.29,4.27,4.25,4.24,4.22,4.20,4.18,4.17,
4.15,4.13,4.11,4.10,4.08,4.06,4.04,4.03,4.01,4.48,4.45,4.43,4.40,4.38,4.35,4.33,4.31,4.28,4.26,4.23,
4.21,4.19,4.16,4.14,4.12,4.09,4.07,4.05,4.02,4.00,4.48,4.43,4.38,4.33,4.28,4.23,4.18,4.13,4.08,4.03,4.46,4.36,
3.99,3.97,3.96,3.94,3.92,3.91,3.89,3.87,3.86,3.84,3.82,3.80,3.79,3.77,3.75,3.74,3.72,3.70,3.68,3.67,
3.65,3.63,3.61,3.60,3.58,3.56,3.54,3.53,3.51,3.98,3.95,3.93,3.90,3.88,3.85,3.83,3.81,3.78,3.76,3.73,
3.71,3.69,3.66,3.64,3.62,3.59,3.57,3.55,3.52,3.50,3.98,3.93,3.88,3.83,3.78,3.73,3.68,3.63,3.58,3.53,
3.96,3.86,3.76,3.66,3.56,3.97,3.87,3.77,3.67,3.57,3.92,3.72,
3.49,3.47,3.46,3.44,3.42,3.41,3.39,3.37,3.36,3.34,3.32,3.30,3.29,3.27,3.25,3.24,3.22,3.20,3.18,3.17,
3.15,3.13,3.11,3.10,3.08,3.06,3.04,3.03,3.01,3.48,3.45,3.43,3.40,3.38,3.35,3.33,3.31,3.28,3.26,3.23,
3.21,3.19,3.16,3.14,3.12,3.09,3.07,3.05,3.02,3.00,3.48,3.43,3.38,3.33,3.28,3.23,3.18,3.13,3.08,3.03,
3.46,3.36,3.26,3.16,3.06,3.47,3.37,3.27,3.17,3.07,3.42,3.22,
2.99,2.97,2.96,2.94,2.92,2.91,2.89,2.87,2.86,2.84,2.82,2.80,2.79,2.77,2.75,2.74,2.72,2.70,2.68,2.67,
2.65,2.63,2.61,2.60,2.58,2.56,2.54,2.53,2.51,2.98,2.95,2.93,2.90,2.88,2.85,2.83,2.81,2.78,2.76,2.73,
2.71,2.69,2.66,2.64,2.62,2.59,2.57,2.55,2.52,2.50,2.98,2.93,2.88,2.83,2.78,2.73,2.68,2.63,
2.49,2.47,2.46,2.44,2.42,2.41,2.39,2.37,2.36,2.34,2.32,2.30,2.29,2.27,2.25,2.24,2.22,2.20,2.18,2.17,
2.15,2.13,2.11,2.10,2.08,2.06,2.04,2.03,2.01,2.48,2.45,2.43,2.40,2.38,2.35,2.33,2.31,2.28,2.26,2.23,
2.21,2.19,2.16,2.14,2.12,2.09,
1.99,1.96,1.93,1.90,1.87,1.84,1.81,1.78,1.75,1.72,1.69,1.66,1.63,1.60,1.57,1.54,1.51,1.97,1.88,1.79,
1.70,1.61,1.52,1.92,1.74,1.56,1.83,1.65,
1.47,1.45,1.42,1.38,1.35,1.30,1.25,1.18,1.15,1.10,1.07,1.02,0.63,
4.44,4.38,4.32,4.26,4.20,4.14,4.08,4.02,4.47,4.41,4.35,4.29,4.23,4.17,4.11,4.05,4.49,4.43,4.37,4.31,4.25,4.19,4.13,4.07,4.01,
3.94,3.88,3.82,3.76,3.70,3.64,3.58,3.52,3.97,3.91,3.85,3.79,3.73,3.67,3.61,3.55,3.99,3.93,3.87,3.81,3.75,3.69,3.63,3.57,3.51,
3.44,3.38,3.32,3.26,3.20,3.14,3.08,3.02,3.47,3.41,3.35,3.29,3.23,3.17,3.11,3.05,3.49,3.43,3.37,3.31,3.25,3.19,3.13,3.07,3.01,
2.94,2.88,2.82,2.76,2.70,2.64,2.58,2.52,2.97,2.91,2.85,2.79,2.73,2.67,2.61,2.55,2.99,2.93,2.87,2.81,2.75,2.69,2.63,2.57,2.51,
4.94,4.88,4.82,4.76,4.70,4.64,4.58,4.52,4.97,4.91,4.85,4.79,4.73,4.67,4.61,4.55,4.99,4.93,4.87,4.81,4.75,4.69,4.63,4.57,4.51,
4.44,4.38,4.32,4.26,4.20,4.14,4.08,4.02,4.47,4.41,4.35,4.29,4.23,4.17,4.11,4.05,4.49,4.43,4.37,4.31,4.25,4.19,4.13,4.07,4.01,
3.94,3.88,3.82,3.76,3.70,3.64,3.58,3.52,3.97,3.91,3.85,3.79,3.73,3.67,3.61,3.55,3.99,3.93,3.87,3.81,3.75,3.69,3.63,3.57,3.51,
3.44,3.38,3.32,3.26,3.20,3.14,3.08,3.02,3.47,3.41,3.35,3.29,3.23,3.17,3.11,3.05,3.49,3.43,3.37,3.31,3.25,3.19,3.13,3.07,3.01];

// Moving Average, Stage 14
const ma14 = [8.00,7.99,7.98,7.97,7.96,7.95,7.94,7.93,7.92,7.91,7.90,7.89,7.88,7.87,7.86,7.85,
7.99,7.97,7.95,7.93,7.91,7.89,7.87,7.85,8.00,7.98,7.96,7.94,7.92,7.90,7.88,7.86,
8.00,7.98,7.95,7.92,7.89,7.86,7.99,7.96,7.93,7.90,7.87,7.97,7.94,7.91,7.88,7.85,
7.99,7.96,7.92,7.88,7.98,7.94,7.90,7.86,8.00,7.97,7.93,7.89,7.85,7.95,7.91,7.87,
7.85,7.86,7.87,7.88,7.89,7.90,7.91,7.92,7.93,7.94,7.95,7.96,7.97,7.98,7.99,8.00,
7.98,7.95,7.93,7.90,7.88,7.86,7.99,7.97,7.94,7.91,7.89,7.87,7.96,7.92,8.00,
7.84,7.83,7.82,7.81,7.80,7.79,7.78,7.77,7.76,7.75,7.74,7.73,7.72,7.71,7.70,7.69,7.68,7.67,7.66,7.65,7.64,7.63,7.62,7.61,7.60,
7.83,7.81,7.79,7.77,7.75,7.73,7.71,7.69,7.67,7.65,7.63,7.61,7.84,7.82,7.80,7.78,7.76,7.74,7.72,7.70,7.68,7.66,7.64,7.62,7.60,
7.84,7.81,7.78,7.75,7.72,7.69,7.66,7.63,7.60,7.83,7.80,7.77,7.74,7.71,7.68,7.65,7.62,7.82,7.79,7.76,7.73,7.70,7.67,7.64,7.61,
7.59,7.58,7.56,7.55,7.53,7.52,7.50,7.49,7.47,7.46,7.44,7.43,7.41,7.40,7.57,7.54,7.51,7.48,7.45,7.42,7.58,7.52,7.46,7.40,7.55,7.49,7.43,7.56,
7.39,7.37,7.35,7.33,7.31,7.29,7.27,7.25,7.23,7.21,7.38,7.34,7.30,7.26,7.22,7.36,7.28,7.20,7.32,7.24,
7.19,7.17,7.14,7.12,7.10,7.08,7.05,7.03,7.01,7.18,7.13,7.07,7.02,7.15,7.09,
6.98,6.93,6.88,6.85,6.80,6.72,6.70,6.65,6.60,6.55,6.52,6.95,6.07,5.98,4.67,0.07,
8.00,7.98,7.96,7.94,7.92,7.90,7.88,7.86,7.84,7.82,7.80,7.78,7.76,7.74,7.72,7.70,7.68,7.66,7.64,7.62,
7.99,7.97,7.95,7.93,7.91,7.89,7.87,7.85,7.83,7.81,7.79,7.77,7.75,7.73,7.71,7.69,7.67,7.65,7.63,7.61,
8.00,7.99,7.98,7.97,7.96,7.95,7.94,7.93,7.92,7.91,7.90,7.89,7.88,7.87,7.86,7.85,7.84,7.83,7.82,7.81,
7.99,7.97,7.95,7.93,7.91,7.89,7.87,7.85,7.83,7.98,7.96,7.94,7.92,7.90,7.88,7.86,7.80,7.78,7.76,7.74,
8.00,7.98,7.96,7.94,7.92,7.90,7.88,7.86,7.84,7.82,7.80,7.78,7.76,7.74,7.72,7.70,7.68,7.66,7.64,7.62,
7.99,7.97,7.95,7.93,7.91,7.89,7.87,7.85,7.83,7.81,7.79,7.77,7.75,7.73,7.71,7.69,7.67,7.65,7.63,7.61,
8.00,7.99,7.98,7.97,7.96,7.95,7.94,7.93,7.92,7.91,7.90,7.89,7.88,7.87,7.86,7.85,7.84,7.83,7.82,7.81,
7.99,7.97,7.95,7.93,7.91,7.89,7.87,7.85,7.83,7.98,7.96,7.94,7.92,7.90,7.88,7.86,7.80,7.78,7.76,7.74];

// Moving Average, Stage 18
const ma18 = [8.00,7.99,7.98,7.97,7.96,7.95,7.94,7.93,7.92,7.91,7.90,7.89,7.88,7.87,7.86,7.85,
7.99,7.97,7.95,7.93,7.91,7.89,7.87,7.85,8.00,7.98,7.96,7.94,7.92,7.90,7.88,7.86,
8.00,7.98,7.95,7.92,7.89,7.86,7.99,7.96,7.93,7.90,7.87,7.97,7.94,7.91,7.88,7.85,
7.99,7.96,7.92,7.88,7.98,7.94,7.90,7.86,8.00,7.97,7.93,7.89,7.85,7.95,7.91,7.87,
7.85,7.86,7.87,7.88,7.89,7.90,7.91,7.92,7.93,7.94,7.95,7.96,7.97,7.98,7.99,8.00,
7.97,7.93,7.89,7.95,7.91,
7.84,7.83,7.82,7.81,7.80,7.79,7.78,7.77,7.76,7.75,7.74,7.73,7.72,7.71,7.70,7.69,7.68,7.67,7.66,7.65,7.64,7.63,7.62,7.61,7.60,
7.83,7.81,7.79,7.77,7.75,7.73,7.71,7.69,7.67,7.65,7.63,7.61,7.84,7.82,7.80,7.78,7.76,7.74,7.72,7.70,7.68,7.66,7.64,7.62,7.60,
7.84,7.81,7.78,7.75,7.72,7.69,7.66,7.63,7.60,7.83,7.80,7.77,7.74,7.71,7.68,7.65,7.62,7.82,7.79,7.76,7.73,7.70,7.67,7.64,7.61,
7.80,7.74,7.68,7.62,7.77,
7.59,7.58,7.57,7.56,7.55,7.54,7.53,7.52,7.51,7.50,7.49,7.48,7.47,7.46,7.45,7.44,7.43,7.42,7.41,7.40,
7.58,7.56,7.54,7.52,7.50,7.48,7.46,7.44,7.42,7.40,7.59,7.57,7.55,7.53,7.51,7.49,7.47,7.45,7.43,7.41,
7.59,7.55,7.51,7.47,7.43,7.57,7.53,7.49,7.45,7.41,
7.39,7.38,7.37,7.36,7.35,7.34,7.33,7.32,7.31,7.30,7.29,7.28,7.27,7.26,7.25,7.24,7.23,7.22,7.21,7.20,
7.38,7.35,7.32,7.29,7.26,7.23,7.20,7.37,7.34,7.31,7.28,7.25,7.22,7.36,7.30,
7.19,7.18,7.17,7.16,7.15,7.14,7.13,7.12,7.11,7.10,7.09,7.08,7.07,7.06,7.05,7.04,7.03,7.02,7.01,7.00,
7.18,7.14,7.10,7.06,7.02,7.16,7.08,7.12,
6.99,6.97,6.95,6.93,6.91,6.89,6.87,6.85,6.83,6.81,6.79,6.77,6.75,6.73,6.71,6.69,6.67,6.65,6.63,6.61,
6.59,6.57,6.55,6.53,6.51,6.98,6.92,6.86,6.80,6.74,6.68,6.62,6.56,6.50,6.94,6.78,
6.48,6.45,6.42,6.40,6.37,6.34,6.31,6.28,6.26,6.23,6.20,6.17,6.14,6.12,6.09,6.06,6.03,6.01,6.44,6.33,6.21,6.10,
5.98,5.92,5.88,5.85,5.80,5.76,5.72,5.68,5.62,5.58,5.55,5.52,5.90,5.65,
5.45,5.38,5.30,5.27,5.25,5.17,5.15,5.14,5.05,5.00,4.92,
7.99,7.96,7.93,7.90,7.87,7.84,7.81,7.78,7.75,7.72,7.69,7.66,7.63,7.60,7.57,7.54,7.51,7.98,7.95,7.92,
7.89,7.86,7.83,7.80,7.77,7.74,7.71,7.68,7.65,7.62,7.59,7.56,7.53,7.50,7.97,7.91,7.85,7.79,7.73,7.67,
7.94,7.88,7.82,7.76,7.70,7.64,7.58,7.52,7.97,7.91,7.85,7.79,7.73,7.67,7.61,7.55,7.99,7.93,7.87,7.81,7.75,7.69,7.63,7.57,7.51,
7.44,7.38,7.32,7.26,7.20,7.14,7.08,7.02,7.47,7.41,7.35,7.29,7.23,7.17,7.11,7.05,7.49,7.43,7.37,7.31,7.25,7.19,7.13,7.07,7.01,
7.99,7.96,7.93,7.90,7.87,7.84,7.81,7.78,7.75,7.72,7.69,7.66,7.63,7.60,7.57,7.54,7.51,7.98,7.95,7.92,
7.89,7.86,7.83,7.80,7.77,7.74,7.71,7.68,7.65,7.62,7.59,7.56,7.53,7.50,7.97,7.91,7.85,7.79,7.73,7.67,
7.94,7.88,7.82,7.76,7.70,7.64,7.58,7.52,7.97,7.91,7.85,7.79,7.73,7.67,7.61,7.55,7.99,7.93,7.87,7.81,7.75,7.69,7.63,7.57,7.51];

// Moving Average, Stage 22
const ma22 = [8.00,7.99,7.98,7.97,7.96,7.95,7.94,7.93,7.92,7.91,7.90,7.89,7.88,7.87,7.86,7.85,7.84,7.83,7.82,7.81,7.80,7.79,7.78,7.77,7.76,7.75,
7.99,7.97,7.95,7.93,7.91,7.89,7.87,7.85,7.83,7.81,7.79,7.77,7.75,7.98,7.96,7.94,7.92,7.90,7.88,7.86,7.84,7.82,7.80,7.78,7.76,
7.98,7.94,7.90,7.86,7.82,7.78,7.96,7.92,7.88,7.84,7.80,7.76,8.00,7.87,
7.74,7.73,7.72,7.71,7.70,7.69,7.68,7.67,7.66,7.65,7.64,7.63,7.62,7.61,7.60,7.59,7.58,7.57,7.56,7.55,7.54,7.53,7.52,7.51,7.50,
7.73,7.71,7.69,7.67,7.65,7.63,7.61,7.59,7.57,7.55,7.53,7.51,7.74,7.72,7.70,7.68,7.66,7.64,7.62,7.60,7.58,7.56,7.54,7.52,7.50,
7.70,7.58,
7.49,7.47,7.46,7.44,7.42,7.41,7.39,7.37,7.36,7.34,7.32,7.30,7.29,7.27,7.25,7.24,7.22,7.20,7.18,7.17,
7.15,7.13,7.11,7.10,7.08,7.06,7.04,7.03,7.01,7.48,7.45,7.43,7.40,7.38,7.35,7.33,7.31,7.28,7.26,7.23,
7.21,7.19,7.16,7.14,7.12,7.09,7.07,7.05,7.02,7.00,7.48,7.43,7.38,7.33,7.28,7.23,7.18,7.13,7.08,7.03,
7.46,7.36,7.26,7.16,7.06,
7.49,7.45,7.41,7.37,7.33,7.29,7.25,7.21,7.17,7.13,7.09,7.05,7.01,7.47,7.39,7.31,7.23,7.15,7.07,7.44,7.28,7.12,7.36,
6.99,6.97,6.96,6.94,6.92,6.91,6.89,6.87,6.86,6.84,6.82,6.80,6.79,6.77,6.75,6.74,6.72,6.70,6.68,6.67,
6.65,6.63,6.61,6.60,6.58,6.56,6.54,6.53,6.51,6.98,6.95,6.93,6.90,6.88,6.85,6.83,6.81,6.78,6.76,6.73,
6.71,6.69,6.66,6.64,6.62,6.59,6.57,6.55,6.52,6.50,6.98,6.93,6.88,6.83,6.78,6.73,6.68,6.63,6.58,6.53,
6.96,6.86,6.76,6.66,6.56,
6.99,6.95,6.91,6.87,6.83,6.79,6.75,6.71,6.67,6.63,6.59,6.55,6.51,6.97,6.81,
6.49,6.47,6.46,6.44,6.42,6.41,6.39,6.37,6.36,6.34,6.32,6.30,6.29,6.27,6.25,6.24,6.22,6.20,6.18,6.17,
6.15,6.13,6.11,6.10,6.08,6.06,6.04,6.03,6.01,6.48,6.45,6.43,6.40,6.38,6.35,6.33,6.31,6.28,6.26,6.23,
6.21,6.19,6.16,6.14,6.12,6.09,6.07,6.05,6.02,6.00,6.48,6.43,6.38,6.33,6.28,6.23,6.18,6.13,6.08,6.03,6.46,6.36,
5.99,5.97,5.96,5.94,5.92,5.91,5.89,5.87,5.86,5.84,5.82,5.80,5.79,5.77,5.75,5.74,5.72,5.70,5.68,5.67,
5.65,5.63,5.61,5.60,5.58,5.56,5.54,5.53,5.51,5.98,5.95,5.93,5.90,5.88,5.85,5.83,5.81,5.78,5.76,5.73,
5.71,5.69,5.66,5.64,
5.49,5.46,5.43,5.40,5.37,5.34,5.31,5.28,5.25,5.22,5.19,5.16,5.13,5.10,5.07,5.04,5.01,5.48,5.42,5.36,
5.30,5.24,5.18,5.12,5.06,5.00,5.45,5.33,5.21,5.09,
4.95,4.90,4.85,4.75,4.70,4.62,4.48,4.30,4.19,
7.99,7.96,7.93,7.90,7.87,7.84,7.81,7.78,7.75,7.72,7.69,7.66,7.63,7.60,7.57,7.54,7.51,7.98,7.95,7.92,
7.89,7.86,7.83,7.80,7.77,7.74,7.71,7.68,7.65,7.62,7.59,7.56,7.53,7.50,7.97,7.91,7.85,7.79,7.73,7.67,
7.49,7.46,7.43,7.40,7.37,7.34,7.31,7.28,7.25,7.22,7.19,7.16,7.13,7.10,7.07,7.04,7.01,7.48,7.45,7.42,
7.39,7.36,7.33,7.30,7.27,7.24,7.21,7.18,7.15,7.12,7.09,7.06,7.03,7.00,7.47,7.41,7.35,7.29,7.23,7.17,
6.94,6.88,6.82,6.76,6.70,6.64,6.58,6.52,6.97,6.91,6.85,6.79,6.73,6.67,6.61,6.55,6.99,6.93,6.87,6.81,6.75,6.69,6.63,6.57,6.51,
7.99,7.96,7.93,7.90,7.87,7.84,7.81,7.78,7.75,7.72,7.69,7.66,7.63,7.60,7.57,7.54,7.51,7.98,7.95,7.92,
7.89,7.86,7.83,7.80,7.77,7.74,7.71,7.68,7.65,7.62,7.59,7.56,7.53,7.50,7.97,7.91,7.85,7.79,7.73,7.67,
7.44,7.38,7.32,7.26,7.20,7.14,7.08,7.02,7.47,7.41,7.35,7.29,7.23,7.17,7.11,7.05,7.49,7.43,7.37,7.31,7.25,7.19,7.13,7.07,7.01,
6.94,6.88,6.82,6.76,6.70,6.64,6.58,6.52,6.97,6.91,6.85,6.79,6.73,6.67,6.61,6.55,6.99,6.93,6.87,6.81,6.75,6.69,6.63,6.57,6.51];

const pointSets = [[bc14, bc18, bc22], [raw14, raw18, raw22], [ma14, ma18, ma22]];
const groupMeans = [meanBaseline, meanRaw, meanMoving];
const groupSds = [sdBaseline, sdRaw, sdMoving];

// ---------------- LAYOUT / STYLE ----------------
const stageColors = ["#008080", "#808080", "#808000"];
const axisColor = "#4a4a4a";
const sans = "'Liberation Sans', Arial, Helvetica, sans-serif";
const serif = "'Liberation Serif', 'Times New Roman', serif";

// bracket layout: x-extent in axis units, bar and label heights in bits
const bracketLayout = [
  {x1: 0.79, x2: 2.957, yBar: 8.890, lx: 1.957, ly: 9.045},
  {x1: 0.79, x2: 1.887, yBar: 8.461, lx: 1.417, ly: 8.566},
  {x1: 2.05, x2: 2.957, yBar: 8.461, lx: 2.51,  ly: 8.566},
  {x1: 4.183, x2: 6.017, yBar: 8.662, lx: 5.07,  ly: 8.788},
  {x1: 4.183, x2: 4.95,  yBar: 8.277, lx: 4.577, ly: 8.420},
  {x1: 5.20,  x2: 6.017, yBar: 8.277, lx: 5.59,  ly: 8.420},
  {x1: 7.01,  x2: 9.177, yBar: 8.723, lx: 8.044, ly: 8.840},
  {x1: 7.01,  x2: 7.84,  yBar: 8.315, lx: 7.437, ly: 8.424},
  {x1: 8.37,  x2: 9.19,  yBar: 8.315, lx: 8.713, ly: 8.424}
];
const categoryLabelShift = [16, 7, 15];
const categoryLabelWidth = [438, 96, 362];

const svg = d3.select("#chart");
const x = d3.scaleLinear().domain([0, 10]).range([168.5, 1668.5]);
const y = d3.scaleLinear().domain([0, 9]).range([1201, 27.4]);

// deterministic horizontal jitter (layout only)
function jitter(i, g) {
  const v = Math.sin(i * 12.9898 + g * 78.233) * 43758.5453;
  return v - Math.floor(v);
}

// grid
svg.append("g").selectAll("line").data(yTicks.filter(t => t > 0)).join("line")
  .attr("x1", x(0)).attr("x2", x(10))
  .attr("y1", d => y(d)).attr("y2", d => y(d))
  .attr("stroke", "#e3e3e3").attr("stroke-width", 1.5);

// points
const gPts = svg.append("g");
pointSets.forEach((sets, c) => sets.forEach((vals, s) => {
  const pos = c * 3 + s + 1;
  gPts.append("g").selectAll("circle").data(vals).join("circle")
    .attr("cx", (d, i) => x(pos + (jitter(i, pos) - 0.5) * 0.80))
    .attr("cy", d => y(d))
    .attr("r", 4.0)
    .attr("fill", "none")
    .attr("stroke", stageColors[s])
    .attr("stroke-width", 1.5);
}));

// mean +/- sd crosses
const gCross = svg.append("g");
groupMeans.forEach((ms, c) => ms.forEach((m, s) => {
  const pos = c * 3 + s + 1;
  const sd = groupSds[c][s];
  gCross.append("line").attr("x1", x(pos - 0.45)).attr("x2", x(pos + 0.45))
    .attr("y1", y(m)).attr("y2", y(m)).attr("stroke", "#000").attr("stroke-width", 4);
  gCross.append("line").attr("x1", x(pos)).attr("x2", x(pos))
    .attr("y1", y(m - sd)).attr("y2", y(m + sd)).attr("stroke", "#000").attr("stroke-width", 4);
}));

// y axis
const yAxis = d3.axisLeft(y).tickValues(yTicks).tickFormat(d3.format("d"))
  .tickSizeInner(-14).tickSizeOuter(0).tickPadding(11);
const gy = svg.append("g").attr("transform", `translate(${x(0)},0)`).call(yAxis);
gy.select(".domain").attr("stroke", axisColor).attr("stroke-width", 1.5);
gy.selectAll(".tick line").attr("stroke", axisColor).attr("stroke-width", 1.5);
gy.selectAll(".tick text").attr("font-family", sans).attr("font-size", 23).attr("fill", "#262626");

// x axis
const xAxis = d3.axisBottom(x).tickValues([]).tickSizeOuter(0);
const gx = svg.append("g").attr("transform", `translate(0,${y(0)})`).call(xAxis);
gx.select(".domain").attr("stroke", axisColor).attr("stroke-width", 1.5);

// category labels
svg.append("g").selectAll("text").data(categories).join("text")
  .attr("x", (d, i) => x(i * 3 + 2) + categoryLabelShift[i])
  .attr("y", 1307)
  .attr("text-anchor", "middle")
  .attr("font-family", serif).attr("font-size", 50)
  .attr("textLength", (d, i) => categoryLabelWidth[i])
  .attr("lengthAdjust", "spacingAndGlyphs")
  .attr("fill", "#000")
  .text(d => d);

// y label
svg.append("text").attr("transform", "translate(62,588) rotate(-90)")
  .attr("text-anchor", "middle").attr("font-family", serif).attr("font-size", 69)
  .text("Bits");

// title (mostly outside the picture, as in the original)
svg.append("text").attr("x", 1222).attr("y", -3).attr("text-anchor", "end")
  .attr("font-family", serif).attr("font-size", 60).text("Entropy");

// brackets
const gBr = svg.append("g");
bracketLayout.forEach((b, i) => {
  gBr.append("line").attr("x1", x(b.x1)).attr("x2", x(b.x2))
    .attr("y1", y(b.yBar)).attr("y2", y(b.yBar))
    .attr("stroke", "#000").attr("stroke-width", 5.5);
  gBr.append("text").attr("x", x(b.lx)).attr("y", y(b.ly) + 0.48 * 48)
    .attr("text-anchor", "middle").attr("font-family", serif).attr("font-size", 48)
    .text(bracketLabels[i]);
});

// legend
const lg = svg.append("g");
lg.append("rect").attr("x", 1448).attr("y", 726).attr("width", 195).attr("height", 111)
  .attr("fill", "#fff").attr("stroke", "#5a5a5a").attr("stroke-width", 1.3);
stages.forEach((st, i) => {
  const cy = 747 + i * 35.5;
  lg.append("line").attr("x1", 1457).attr("x2", 1499).attr("y1", cy).attr("y2", cy)
    .attr("stroke", stageColors[i]).attr("stroke-width", 5);
  lg.append("text").attr("x", 1504).attr("y", 755 + i * 35.5)
    .attr("font-family", sans).attr("font-size", 32.5).attr("fill", "#000").text(st);
});

// effect size key
const ek = svg.append("g");
effectStars.forEach((st, i) => {
  const base = 557 + i * 56.5;
  ek.append("text").attr("x", 1811).attr("y", base + 11).attr("text-anchor", "middle")
    .attr("font-family", serif).attr("font-size", 48).text(st);
  const t = ek.append("text").attr("x", 1900).attr("y", base)
    .attr("font-family", serif).attr("font-size", 49)
    .attr("textLength", 205).attr("lengthAdjust", "spacingAndGlyphs");
  t.append("tspan").text("|");
  t.append("tspan").attr("font-style", "italic").text("d");
  t.append("tspan").text("| \u2265 " + effectThresholds[i]);
});
</script>
</body></html>
